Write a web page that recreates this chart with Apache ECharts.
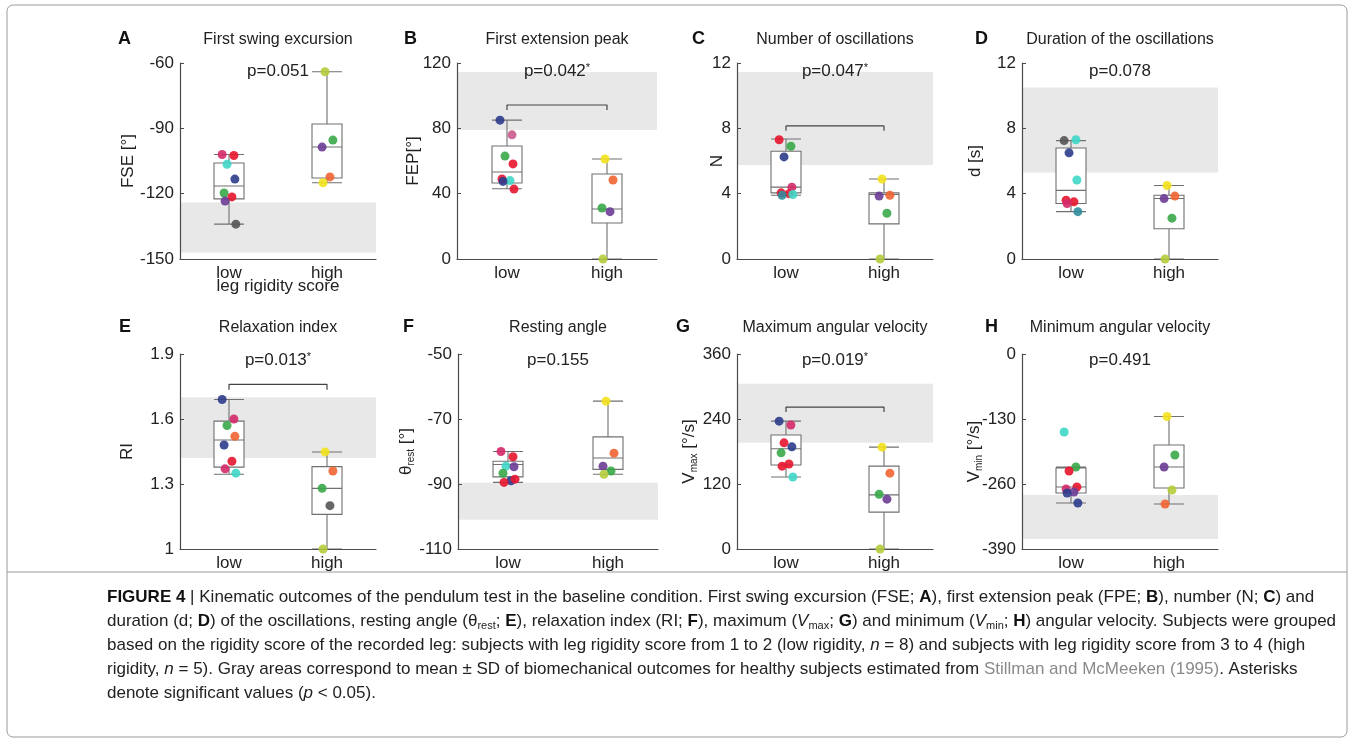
<!DOCTYPE html>
<html><head><meta charset="utf-8">
<script src="https://cdn.jsdelivr.net/npm/echarts@6/dist/echarts.min.js"></script>
<style>html,body{margin:0;padding:0;background:#fff}#c{width:1354px;height:745px}</style>
</head><body><div id="c"></div>
<script>
// ---------------- DATA ----------------
const CATEGORIES = ['low', 'high'];
const LETTERS = ['A','B','C','D','E','F','G','H'];
const TITLES = ['First swing excursion','First extension peak','Number of oscillations','Duration of the oscillations',
                'Relaxation index','Resting angle','Maximum angular velocity','Minimum angular velocity'];
const P_VALUES = ['0.051','0.042','0.047','0.078','0.013','0.155','0.019','0.491'];
const P_SIGNIF = [false,true,true,false,true,false,true,false];
const Y_MIN  = [-150, 0, 0, 0, 1, -110, 0, -390];
const Y_MAX  = [-60, 120, 12, 12, 1.9, -50, 360, 0];
const Y_STEP = [30, 40, 4, 4, 0.3, 20, 120, 130];
// healthy reference band (mean ± SD)
const NORM_LOW  = [-147, 79, 5.75, 5.3, 1.42, -101, 196, -370];
const NORM_HIGH = [-124, 114.5, 11.45, 10.5, 1.70, -89.6, 305, -282];
// box stats [min, Q1, median, Q3, max]
const BOX_LOW = [
  [-134, -122.4, -116.5, -105.9, -102],
  [43, 46.5, 53.3, 69.2, 85],
  [3.9, 4.05, 4.4, 6.6, 7.35],
  [2.9, 3.4, 4.2, 6.8, 7.25],
  [1.345, 1.378, 1.503, 1.59, 1.69],
  [-89.5, -87.8, -84, -83, -80],
  [133, 155, 185, 210.5, 236],
  [-298, -278, -266, -228, -226]
];
const BOX_HIGH = [
  [-115, -112.8, -98.6, -88, -64],
  [0, 22, 30.6, 52, 61.2],
  [0, 2.15, 3.95, 4.05, 4.9],
  [0, 1.85, 3.7, 3.9, 4.5],
  [1.0, 1.16, 1.28, 1.38, 1.448],
  [-87, -85.5, -82, -75.5, -64.5],
  [0, 68, 100, 153, 188],
  [-300, -268, -226, -182, -125]
];
// individual subjects
const DOTS_LOW = [
  [-102, -102.5, -106.5, -113.3, -119.7, -121.5, -123.4, -134],
  [85, 76, 63, 58.2, 49, 48, 47.5, 42.8],
  [7.3, 6.9, 6.25, 4.4, 4.05, 4.0, 3.9, 3.95],
  [7.25, 7.3, 6.5, 4.84, 3.6, 3.5, 3.4, 2.9],
  [1.69, 1.6, 1.57, 1.52, 1.48, 1.405, 1.37, 1.35],
  [-80, -81.6, -84.5, -84.7, -86.7, -89, -89.5, -88.5],
  [236, 229, 196, 188.6, 177.5, 157, 153, 133],
  [-156, -226, -234, -266, -270, -276, -278, -298]
];
const DOTS_HIGH = [
  [-64, -95.4, -98.6, -112.3, -115],
  [61.2, 48.4, 31.2, 29, 0],
  [4.9, 3.9, 3.85, 2.8, 0],
  [4.5, 3.85, 3.7, 2.5, 0],
  [1.448, 1.36, 1.28, 1.2, 1.0],
  [-64.5, -80.5, -84.5, -86, -87],
  [188, 140, 101, 92, 0],
  [-125, -202, -226, -272, -300]
];
// significance brackets (null = none)
const BRACKET_Y    = [null, 94.3, 8.15, null, 1.76, null, 262, null];
const BRACKET_DROP = [null, 3, 0.3, null, 0.025, null, 9, null];

// ---------------- STYLE ----------------
const RED='#e8152f', MAG='#d42a6a', BLU='#2c3c8c', CYA='#3fd6c6', GRN='#3aa84a', GRY='#555555',
      PUR='#6b3c96', ORA='#f06432', YEL='#f2e21c', YGR='#b4cc3c', TEA='#2f8c9c', PNK='#c85a8a';
const COL_LOW = [
  [MAG, RED, CYA, BLU, GRN, RED, PUR, GRY],
  [BLU, PNK, GRN, RED, RED, CYA, BLU, RED],
  [RED, GRN, BLU, MAG, RED, RED, TEA, CYA],
  [GRY, CYA, BLU, CYA, RED, RED, MAG, TEA],
  [BLU, MAG, GRN, ORA, BLU, RED, MAG, CYA],
  [MAG, RED, CYA, PUR, GRN, BLU, RED, RED],
  [BLU, MAG, RED, BLU, GRN, RED, RED, CYA],
  [CYA, GRN, RED, RED, MAG, PUR, BLU, BLU]
];
const COL_HIGH = [
  [YGR, GRN, PUR, ORA, YEL],
  [YEL, ORA, GRN, PUR, YGR],
  [YEL, ORA, PUR, GRN, YGR],
  [YEL, ORA, PUR, GRN, YGR],
  [YEL, ORA, GRN, GRY, YGR],
  [YEL, ORA, PUR, GRN, YGR],
  [YEL, ORA, GRN, PUR, YGR],
  [YEL, GRN, PUR, YGR, ORA]
];
const JITTER = [-0.07, 0.05, -0.02, 0.06, -0.05, 0.03, -0.04, 0.07, 0.01];
const GRID_LEFT  = [180, 457, 737, 1022, 180, 458, 737, 1022];
const GRID_WIDTH = [196, 200, 196, 196, 196, 200, 196, 196];
const GRID_TOP   = [63, 63, 63, 63, 354, 354, 354, 354];
const GRID_H     = [196, 196, 196, 196, 195, 195, 195, 195];
const NAME_GAP   = [43, 35, 11, 38, 44, 42, 38, 38];
const LETTER_X   = [126, 412, 700, 983, 127, 411, 684, 993];
const Y_NAMES = ['FSE [°]', 'FEP[°]', 'N', 'd [s]', 'RI', '{m|θ}{s|rest}{m| [°]}', '{m|V}{s|max}{m| [°/s]}', '{m|V}{s|min}{m| [°/s]}'];

const FONT = 'Liberation Sans, Arial, sans-serif';
const AX = '#4a4a4a';

const grids = [], xAxes = [], yAxes = [], series = [], graphics = [];
for (let i = 0; i < 8; i++) {
  grids.push({left: GRID_LEFT[i], top: GRID_TOP[i], width: GRID_WIDTH[i], height: GRID_H[i]});
  xAxes.push({
    type: 'category', gridIndex: i, data: CATEGORIES, z: 5,
    axisLine: {onZero: false, lineStyle: {color: AX, width: 1.2}},
    axisTick: {alignWithLabel: true, inside: true, length: 4, lineStyle: {color: AX}},
    axisLabel: {color: '#222', fontSize: 17, fontFamily: FONT, margin: 6}
  });
  xAxes.push({type: 'value', gridIndex: i, min: -0.5, max: 1.5, show: false});
  yAxes.push({
    type: 'value', gridIndex: i, min: Y_MIN[i], max: Y_MAX[i], interval: Y_STEP[i], z: 5,
    axisLine: {show: true, onZero: false, lineStyle: {color: AX, width: 1.2}},
    axisTick: {show: true, inside: true, length: 4, lineStyle: {color: AX}},
    splitLine: {show: false},
    axisLabel: {color: '#222', fontSize: 17, fontFamily: FONT, margin: 6,
                formatter: v => String(+v.toFixed(2))},
    name: Y_NAMES[i], nameLocation: 'middle', nameRotate: 90, nameGap: NAME_GAP[i],
    nameMoveOverlap: false,
    nameTextStyle: {color: '#222', fontSize: 17, fontFamily: FONT,
      rich: {m: {fontSize: 17, fontFamily: FONT, color: '#222'},
             s: {fontSize: 10, fontFamily: FONT, color: '#222', padding: [10, 0, 0, 0]}}}
  });
  // gray reference band
  series.push({
    type: 'scatter', xAxisIndex: 2*i+1, yAxisIndex: i, data: [], z: 1, silent: true,
    markArea: {silent: true, itemStyle: {color: '#e8e8e8'},
               data: [[{yAxis: NORM_LOW[i]}, {yAxis: NORM_HIGH[i]}]]}
  });
  series.push({
    type: 'boxplot', xAxisIndex: 2*i, yAxisIndex: i, z: 2, silent: true,
    boxWidth: [30, 30],
    itemStyle: {color: '#ffffff', borderColor: '#707070', borderWidth: 1.1},
    data: [BOX_LOW[i], BOX_HIGH[i]]
  });
  const pts = [];
  DOTS_LOW[i].forEach((v, k) => pts.push({value: [JITTER[k], v], itemStyle: {color: COL_LOW[i][k]}}));
  DOTS_HIGH[i].forEach((v, k) => pts.push({value: [1 + JITTER[k+2], v], itemStyle: {color: COL_HIGH[i][k]}}));
  series.push({
    type: 'scatter', xAxisIndex: 2*i+1, yAxisIndex: i, z: 6, silent: true,
    symbolSize: 9, itemStyle: {opacity: 0.9}, data: pts
  });
  if (BRACKET_Y[i] !== null) {
    const b = BRACKET_Y[i], d = BRACKET_DROP[i];
    series.push({
      type: 'line', xAxisIndex: 2*i+1, yAxisIndex: i, z: 6, silent: true, symbol: 'none',
      lineStyle: {color: '#444', width: 1.2},
      data: [[0, b - d], [0, b], [1, b], [1, b - d]]
    });
  }
  const cx = GRID_LEFT[i] + GRID_WIDTH[i] / 2;
  const row = i < 4 ? 0 : 1;
  graphics.push({type: 'text', z: 100, left: LETTER_X[i] - 8, top: (row ? 328 : 40) - 10,
    style: {text: LETTERS[i], font: 'bold 18px ' + FONT, fill: '#111'}});
  graphics.push({type: 'text', z: 100, x: cx, y: row ? 328 : 40,
    style: {text: TITLES[i], font: '16px ' + FONT, fill: '#222', align: 'center', verticalAlign: 'middle'}});
  graphics.push({type: 'text', z: 100, x: cx, y: row ? 360 : 71,
    style: {text: 'p=' + P_VALUES[i] + (P_SIGNIF[i] ? '{a|*}' : ''), font: '17px ' + FONT, fill: '#222',
      align: 'center', verticalAlign: 'middle',
      rich: {a: {fontSize: 11, fontFamily: FONT, fill: '#222', padding: [0, 0, 6, 0]}}}});
}
graphics.push({type: 'text', z: 100, x: 278, y: 286,
  style: {text: 'leg rigidity score', font: '17px ' + FONT, fill: '#222', align: 'center', verticalAlign: 'middle'}});
// frame
graphics.push({type: 'rect', z: 100, shape: {x: 7, y: 5, width: 1340, height: 732, r: 6},
  style: {fill: 'none', stroke: '#9a9a9a', lineWidth: 1}});
graphics.push({type: 'line', z: 100, shape: {x1: 7, y1: 572, x2: 1347, y2: 572},
  style: {stroke: '#9a9a9a', lineWidth: 1}});
const CAPTION =
  '{b|FIGURE 4} | Kinematic outcomes of the pendulum test in the baseline condition. First swing excursion (FSE; {b|A}), first extension peak (FPE; {b|B}), number (N; {b|C}) and\n' +
  'duration (d; {b|D}) of the oscillations, resting angle (θ{s|rest}; {b|E}), relaxation index (RI; {b|F}), maximum ({i|V}{s|max}; {b|G}) and minimum ({i|V}{s|min}; {b|H}) angular velocity. Subjects were grouped\n' +
  'based on the rigidity score of the recorded leg: subjects with leg rigidity score from 1 to 2 (low rigidity, {i|n} = 8) and subjects with leg rigidity score from 3 to 4 (high\n' +
  'rigidity, {i|n} = 5). Gray areas correspond to mean ± SD of biomechanical outcomes for healthy subjects estimated from {g|Stillman and McMeeken (1995)}. Asterisks\n' +
  'denote significant values ({i|p} < 0.05).';
graphics.push({type: 'text', z: 100, left: 107, top: 585,
  style: {text: CAPTION, font: '17px ' + FONT, fill: '#222', lineHeight: 24,
    rich: {
      b: {fontSize: 17, fontWeight: 'bold', fontFamily: FONT, fill: '#111'},
      i: {fontSize: 17, fontStyle: 'italic', fontFamily: FONT, fill: '#222'},
      s: {fontSize: 11, fontFamily: FONT, fill: '#222', padding: [9, 0, 0, 0]},
      g: {fontSize: 17, fontFamily: FONT, fill: '#8a8a8a'}
    }}});

const chart = echarts.init(document.getElementById('c'));
chart.setOption({
  animation: false, backgroundColor: '#fff',
  grid: grids, xAxis: xAxes, yAxis: yAxes, series: series, graphic: graphics
});
</script></body></html>
